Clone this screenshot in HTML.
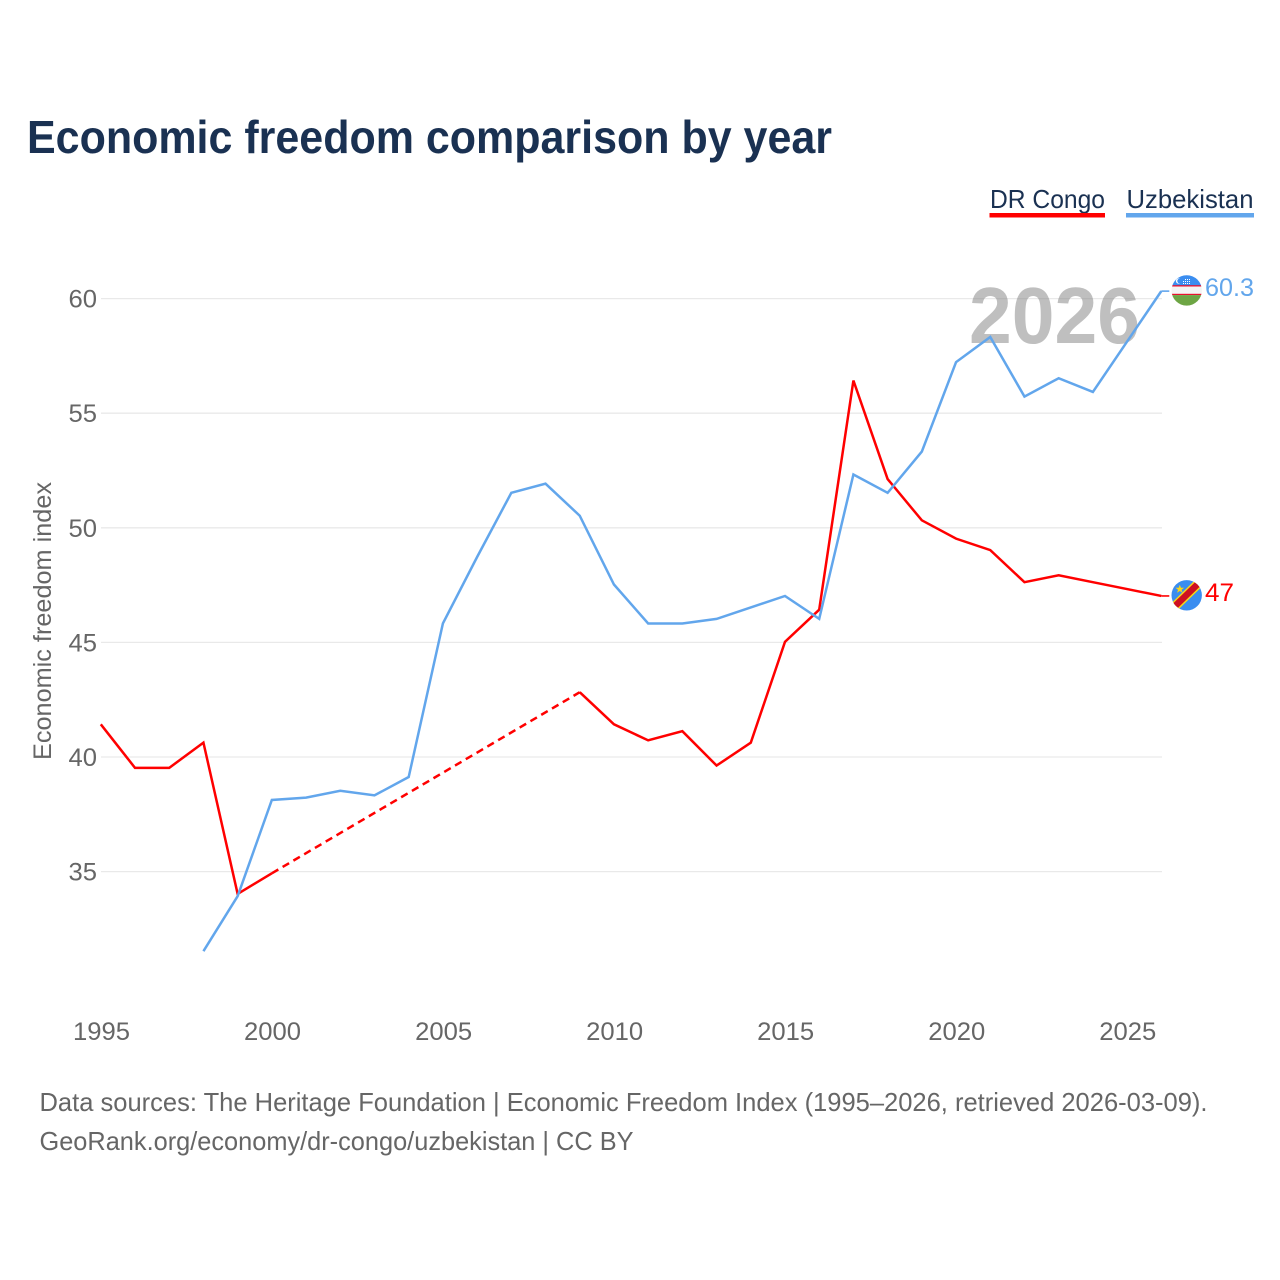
<!DOCTYPE html>
<html lang="en">
<head>
<meta charset="utf-8">
<title>Economic freedom comparison by year</title>
<style>
html,body{margin:0;padding:0;background:#fff;}
svg{display:block;}
text{font-family:"Liberation Sans",sans-serif;}
</style>
</head>
<body>
<svg id="chart" xmlns="http://www.w3.org/2000/svg" width="1280" height="1280" viewBox="0 0 1280 1280">
  <defs>
    <clipPath id="flag-clip-uz"><circle cx="1186.7" cy="290.4" r="15.2"/></clipPath>
    <clipPath id="flag-clip-cd"><circle cx="1186.7" cy="595.3" r="15.2"/></clipPath>
  </defs>
  <rect x="0" y="0" width="1280" height="1280" fill="#ffffff"/>
  <text x="27" y="153" font-size="46" font-weight="700" fill="#1a3152" textLength="805" lengthAdjust="spacingAndGlyphs">Economic freedom comparison by year</text>

  <g>
    <g>
      <text x="990" y="208" font-size="26" fill="#1a3152" textLength="115" lengthAdjust="spacingAndGlyphs">DR Congo</text>
      <rect x="989.5" y="213" width="115.5" height="4.5" fill="#ff0000"/>
    </g>
    <g>
      <text x="1126.5" y="208" font-size="26" fill="#1a3152" textLength="127" lengthAdjust="spacingAndGlyphs">Uzbekistan</text>
      <rect x="1126" y="213" width="128" height="4.5" fill="#62a6ec"/>
    </g>
  </g>

  <g id="grid"></g>
  <text x="969" y="343" font-size="80" font-weight="700" fill="#808080" fill-opacity="0.5" textLength="171" lengthAdjust="spacingAndGlyphs">2026</text>
  <g id="y-axis"></g>
  <g id="x-axis"></g>
  <text transform="translate(51,621) rotate(-90)" text-anchor="middle" font-size="25" fill="#666666" textLength="278" lengthAdjust="spacingAndGlyphs">Economic freedom index</text>
  <g id="series" transform="translate(-0.7,-0.6)"></g>

  <g clip-path="url(#flag-clip-uz)">
    <rect x="1171" y="275" width="32" height="32" fill="#f4f4f4"/>
    <rect x="1171" y="275" width="32" height="10.5" fill="#3a8df0"/>
    <rect x="1171" y="285.2" width="32" height="1.3" fill="#e8112d"/>
    <rect x="1171" y="293.8" width="32" height="1.3" fill="#e8112d"/>
    <rect x="1171" y="295.1" width="32" height="12" fill="#6da544"/>
    <circle cx="1178.5" cy="281" r="2.6" fill="#ffffff"/>
    <circle cx="1179.6" cy="281" r="2.3" fill="#3a8df0"/>
    <path d="M1183 283.5h7M1183 281.5h7M1185 279.5h5" stroke="#ffffff" stroke-width="1" stroke-dasharray="1 1"/>
  </g>
  <g clip-path="url(#flag-clip-cd)">
    <rect x="1171" y="580" width="32" height="32" fill="#3a8df0"/>
    <line x1="1169" y1="612" x2="1204" y2="578" stroke="#f7d618" stroke-width="9.5"/>
    <line x1="1169" y1="612" x2="1204" y2="578" stroke="#ce1021" stroke-width="6.5"/>
    <polygon points="1179.8,584.8 1181,587.8 1184.1,587.8 1181.6,589.8 1182.5,592.8 1179.8,591 1177.1,592.8 1178,589.8 1175.5,587.8 1178.6,587.8" fill="#f7d618"/>
  </g>

  <text x="1205" y="296" font-size="25" fill="#62a6ec" textLength="49" lengthAdjust="spacingAndGlyphs">60.3</text>
  <text x="1205" y="601" font-size="25" fill="#ff0000" textLength="29" lengthAdjust="spacingAndGlyphs">47</text>

  <text x="39.5" y="1111" font-size="26" fill="#666666" textLength="1168" lengthAdjust="spacingAndGlyphs">Data sources: The Heritage Foundation | Economic Freedom Index (1995–2026, retrieved 2026-03-09).</text>
  <text x="39.5" y="1150" font-size="26" fill="#666666" textLength="594" lengthAdjust="spacingAndGlyphs">GeoRank.org/economy/dr-congo/uzbekistan | CC BY</text>
</svg>
<script>
const years = [1995,1996,1997,1998,1999,2000,2001,2002,2003,2004,2005,2006,2007,2008,2009,2010,2011,2012,2013,2014,2015,2016,2017,2018,2019,2020,2021,2022,2023,2024,2025,2026];
const drCongo = [41.4,39.5,39.5,40.6,34.0,34.9,null,null,null,null,null,null,null,null,42.8,41.4,40.7,41.1,39.6,40.6,45.0,46.4,56.4,52.1,50.3,49.5,49.0,47.6,47.9,47.6,47.3,47.0];
const uzbekistan = [null,null,null,31.5,33.9,38.1,38.2,38.5,38.3,39.1,45.8,48.7,51.5,51.9,50.5,47.5,45.8,45.8,46.0,46.5,47.0,46.0,52.3,51.5,53.3,57.2,58.3,55.7,56.5,55.9,58.1,60.3];
const yTicks = [35,40,45,50,55,60];
const xTicks = [1995,2000,2005,2010,2015,2020,2025];

const NS = 'http://www.w3.org/2000/svg';
const xScale = v => 101.5 + (v - 1995) * (1162 - 101.5) / 31;
const yScale = v => 757 - (v - 40) * 22.92;

function svgEl(tag, parent, attrs) {
  const el = document.createElementNS(NS, tag);
  for (const k in attrs) el.setAttribute(k, attrs[k]);
  parent.appendChild(el);
  return el;
}

const grid = document.getElementById('grid');
const yAxis = document.getElementById('y-axis');
const xAxis = document.getElementById('x-axis');
const seriesGroup = document.getElementById('series');

yTicks.forEach(t => {
  const line = svgEl('line', grid, {x1: 101, x2: 1162, y1: yScale(t), y2: yScale(t), stroke: '#e9e9e9', 'stroke-width': 1.3});
  
  
  const label = svgEl('text', yAxis, {x: 97, y: yScale(t) + 9, 'text-anchor': 'end', 'font-size': 25, fill: '#666666', textLength: 28.5, lengthAdjust: 'spacingAndGlyphs'});
  
  
  label.textContent = t;
});

xTicks.forEach(t => {
  const label = svgEl('text', xAxis, {x: xScale(t), y: 1040, 'text-anchor': 'middle', 'font-size': 25, fill: '#666666', textLength: 57, lengthAdjust: 'spacingAndGlyphs'});
  
  
  label.textContent = t;
});

function drawSeries(name, values, color) {
  const g = svgEl('g', seriesGroup, {});
  
  
  let run = [];
  let lastPoint = null;
  const flush = () => {
    if (run.length > 1) {
      const solid = svgEl('polyline', g, {points: run.join(' '), fill: 'none', stroke: color, 'stroke-width': 2.5, 'stroke-linejoin': 'miter'});
      
      
    }
    run = [];
  };
  values.forEach((v, i) => {
    if (v === null) { flush(); return; }
    const p = [xScale(years[i]), yScale(v)];
    if (run.length === 0 && lastPoint && lastPoint.i < i - 1) {
      const dash = svgEl('line', g, {x1: lastPoint.p[0], y1: lastPoint.p[1], x2: p[0], y2: p[1], stroke: color, 'stroke-width': 2.5, 'stroke-dasharray': '7.5 5'});
      
      
    }
    run.push(p.join(','));
    lastPoint = {p: p, i: i};
  });
  flush();
  if (lastPoint) {
    const leader = svgEl('line', g, {x1: lastPoint.p[0], y1: lastPoint.p[1], x2: 1170, y2: lastPoint.p[1], stroke: color, 'stroke-width': 1.6});
    
    
  }
}

drawSeries('dr-congo', drCongo, '#ff0000');
drawSeries('uzbekistan', uzbekistan, '#62a6ec');
</script>
</body>
</html>
